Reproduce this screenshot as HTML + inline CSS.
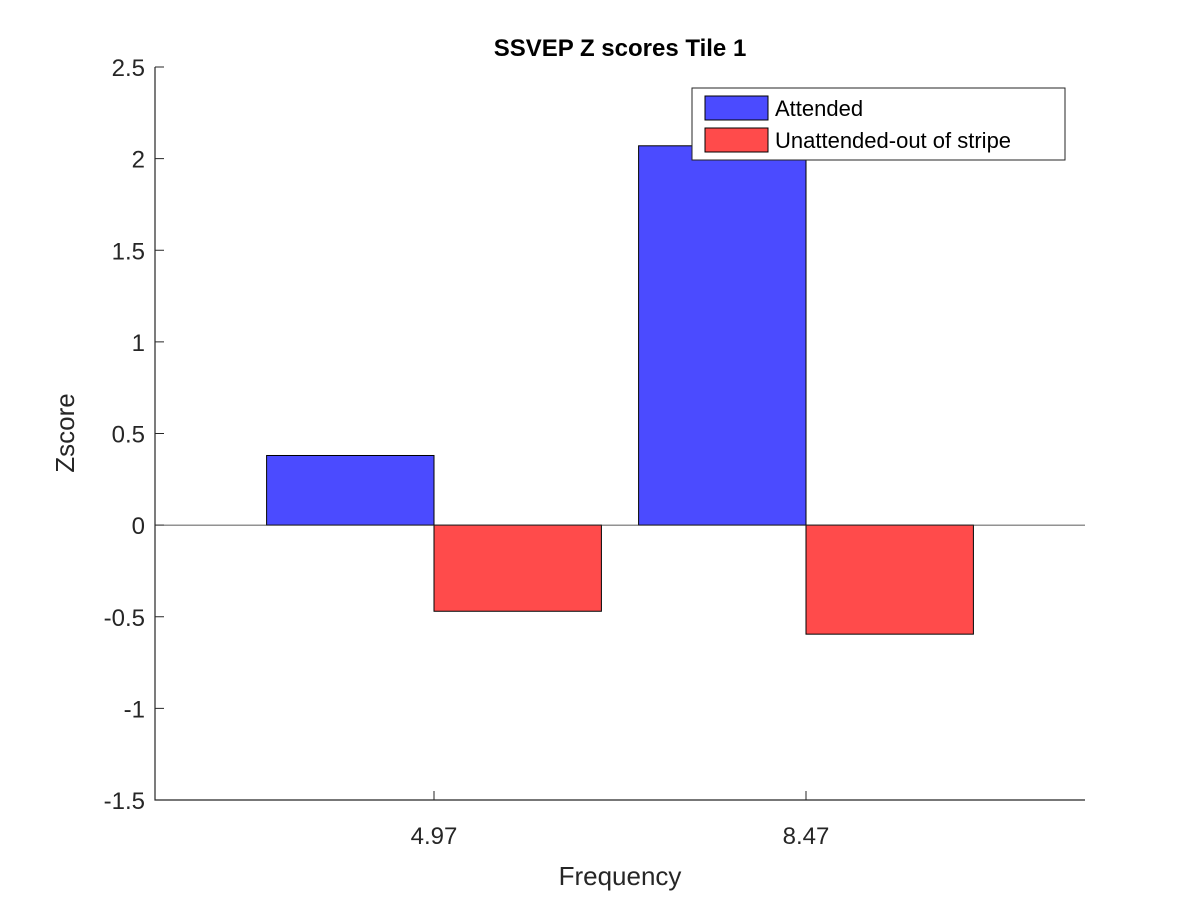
<!DOCTYPE html>
<html><head><meta charset="utf-8"><style>
body{margin:0;background:#fff;}
svg text{font-family:"Liberation Sans",Arial,sans-serif;fill:#262626;}
</style></head><body>
<svg id="chart" width="1200" height="900" xmlns="http://www.w3.org/2000/svg">
<rect width="1200" height="900" fill="#fff"/>
<g id="plot"></g>
</svg>
<script>
const categories = ["4.97","8.47"];
const attended = [0.38, 2.07];
const unattended = [-0.47, -0.595];
const yTicks = [-1.5,-1,-0.5,0,0.5,1,1.5,2,2.5];
const yTickLabels = ["-1.5","-1","-0.5","0","0.5","1","1.5","2","2.5"];

const L=155,R=1085,T=67,B=800;
const xMin=0.25,xMax=2.75,yMin=-1.5,yMax=2.5;
const xs=v=>L+(v-xMin)/(xMax-xMin)*(R-L);
const ys=v=>B-(v-yMin)/(yMax-yMin)*(B-T);
const NS="http://www.w3.org/2000/svg";
const g=document.getElementById('plot');
function mk(tag,attrs,parent){const e=document.createElementNS(NS,tag);for(const k in attrs)e.setAttribute(k,attrs[k]);(parent||g).appendChild(e);return e;}
const bw=0.45;
categories.forEach((c,i)=>{
  const x=i+1;
  const y0=ys(0);
  let a=mk('rect',{x:xs(x-bw),y:Math.min(ys(attended[i]),y0),width:xs(x)-xs(x-bw),height:Math.abs(ys(attended[i])-y0),fill:'#4b4bff',stroke:'#000','stroke-width':1});
  
  
  let u=mk('rect',{x:xs(x),y:Math.min(ys(unattended[i]),y0),width:xs(x+bw)-xs(x),height:Math.abs(ys(unattended[i])-y0),fill:'#ff4b4b',stroke:'#000','stroke-width':1});
  
  
  mk('line',{x1:xs(x),x2:xs(x),y1:B,y2:B-9,stroke:'#262626'});
  let t=mk('text',{x:xs(x),y:B+44,'text-anchor':'middle','font-size':24});
  t.textContent=c;
  
  
});
let z=mk('line',{x1:L,x2:R,y1:ys(0),y2:ys(0),stroke:'#262626','stroke-width':0.8});


yTicks.forEach((v,i)=>{
  mk('line',{x1:L,x2:L+9,y1:ys(v),y2:ys(v),stroke:'#262626'});
  let t=mk('text',{x:L-10,y:ys(v)+9,'text-anchor':'end','font-size':24});
  t.textContent=yTickLabels[i];
  
  
});
let ax=mk('path',{d:`M${L},${T}V${B}H${R}`,fill:'none',stroke:'#262626','stroke-width':1.2});


let ti=mk('text',{x:620,y:56,'text-anchor':'middle','font-size':24,'font-weight':'bold'});
ti.textContent='SSVEP Z scores Tile 1';ti.style.fill='#000';


let xl=mk('text',{x:620,y:885,'text-anchor':'middle','font-size':26});
xl.textContent='Frequency';


let yl=mk('text',{x:0,y:0,'text-anchor':'middle','font-size':26,transform:'translate(74,433) rotate(-90)'});
yl.textContent='Zscore';


let lg=mk('g',{});


mk('rect',{x:692,y:88,width:373,height:72,fill:'#fff',stroke:'#262626','stroke-width':1},lg);
const entries=[["Attended","#4b4bff"],["Unattended-out of stripe","#ff4b4b"]];
entries.forEach((e,i)=>{
  const yy=96+i*32;
  let r=mk('rect',{x:705,y:yy,width:63,height:24,fill:e[1],stroke:'#000'},lg);
  
  
  let t=mk('text',{x:775,y:yy+20,'font-size':22},lg);
  t.textContent=e[0];t.style.fill='#000';
  
  
});
</script>
</body></html>
